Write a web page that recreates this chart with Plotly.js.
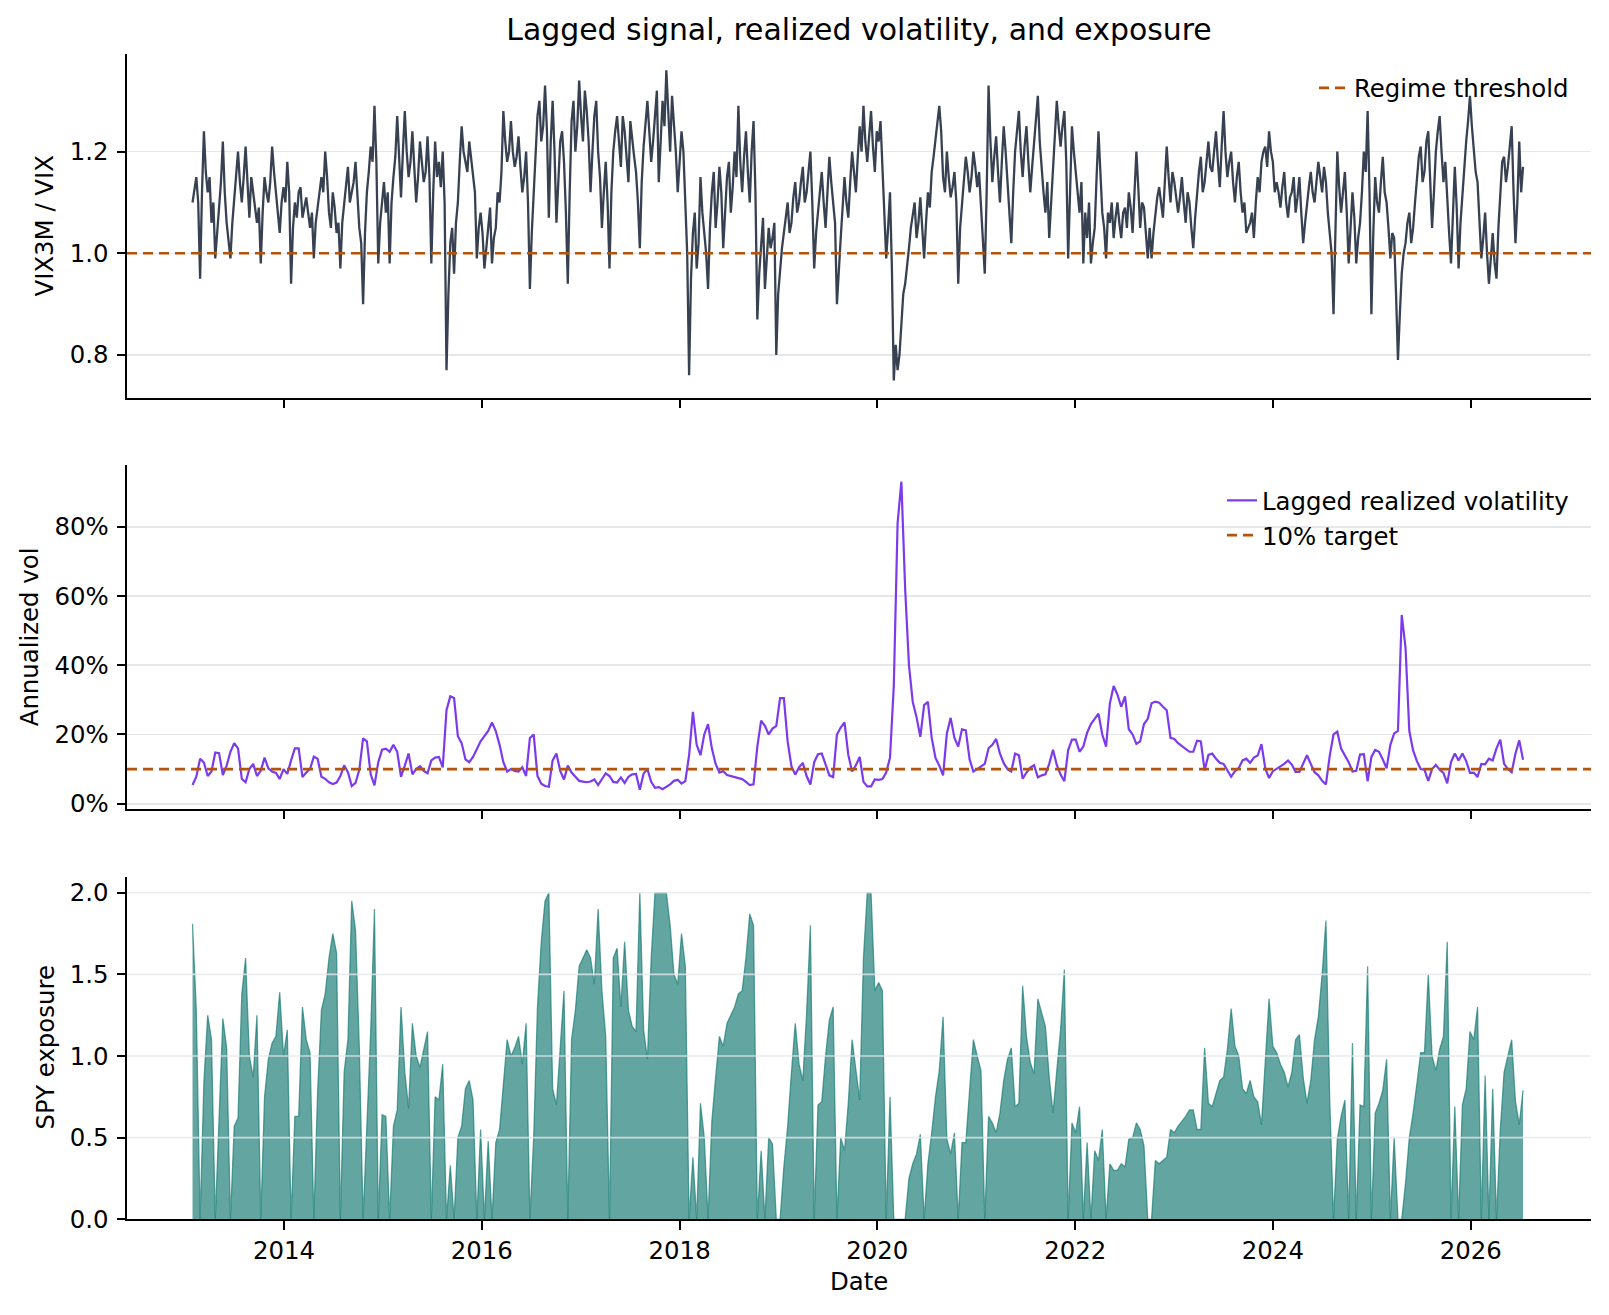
<!DOCTYPE html>
<html>
<head>
<meta charset="utf-8">
<script src="https://cdn.plot.ly/plotly-3.0.1.min.js"></script>
<style>
  html, body { margin: 0; padding: 0; background: #ffffff; }
  #chart { width: 1609px; height: 1315px; }
</style>
</head>
<body>
<div id="chart"></div>
<script>
// Observations every two weeks, first one on 2013-01-28
const FIRST_DATE = '2013-01-28';
const STEP_DAYS = 14;

// VIX3M / VIX term-structure ratio (lagged signal), on the biweekly dates
const termRatio = [
  1.10, 1.15, 0.95, 1.24, 1.12, 1.06, 0.99, 1.09, 1.22, 1.06, 0.99, 1.11, 1.20, 1.10, 1.21, 1.07, 1.12, 1.06, 0.98, 1.15, 1.10, 1.21, 1.12, 1.04, 1.13, 1.18,
  0.94, 1.10, 1.12, 1.07, 1.11, 1.05, 0.99, 1.09, 1.15, 1.20, 1.08, 1.12, 1.04, 0.97, 1.10, 1.17, 1.12, 1.18, 1.05, 0.90, 1.12, 1.21, 1.29, 0.98, 1.10, 1.08,
  0.98, 1.15, 1.27, 1.11, 1.28, 1.15, 1.24, 1.10, 1.22, 1.14, 1.23, 0.98, 1.22, 1.18, 1.20, 0.77, 1.02, 0.96, 1.10, 1.25, 1.18, 1.22, 1.16, 0.99, 1.08, 0.97,
  1.05, 0.98, 1.05, 1.10, 1.28, 1.18, 1.26, 1.17, 1.23, 1.12, 1.20, 0.93, 1.12, 1.27, 1.22, 1.33, 1.07, 1.30, 1.06, 1.22, 1.18, 0.94, 1.26, 1.20, 1.34, 1.22,
  1.28, 1.12, 1.27, 1.20, 1.05, 1.18, 0.97, 1.20, 1.27, 1.17, 1.24, 1.14, 1.22, 1.16, 1.01, 1.21, 1.30, 1.18, 1.28, 1.14, 1.30, 1.36, 1.20, 1.26, 1.12, 1.24,
  1.08, 0.76, 1.04, 0.97, 1.15, 1.04, 0.93, 1.12, 1.05, 1.17, 1.01, 1.15, 1.08, 1.20, 1.29, 1.12, 1.24, 1.10, 1.26, 0.87, 1.02, 0.93, 1.05, 1.03, 0.80, 0.97,
  1.04, 1.10, 1.06, 1.14, 1.10, 1.17, 1.12, 1.20, 0.97, 1.08, 1.16, 1.05, 1.19, 1.10, 0.90, 1.03, 1.15, 1.07, 1.20, 1.12, 1.25, 1.29, 1.18, 1.28, 1.16, 1.22,
  1.17, 0.99, 1.12, 0.75, 0.77, 0.86, 0.94, 1.01, 1.08, 1.03, 1.11, 0.99, 1.12, 1.16, 1.22, 1.29, 1.15, 1.20, 1.11, 1.16, 0.94, 1.10, 1.19, 1.12, 1.20, 1.13,
  1.10, 0.96, 1.33, 1.14, 1.23, 1.10, 1.25, 1.14, 1.02, 1.20, 1.28, 1.15, 1.25, 1.12, 1.22, 1.31, 1.16, 1.08, 1.03, 1.18, 1.30, 1.21, 1.28, 0.99, 1.25, 1.16,
  1.08, 0.98, 1.03, 0.98, 1.05, 1.24, 1.08, 0.99, 1.06, 1.03, 1.10, 1.03, 1.09, 1.12, 1.04, 1.20, 1.05, 1.09, 0.99, 0.99, 1.08, 1.13, 1.07, 1.21, 1.10, 1.14,
  1.08, 1.15, 1.06, 1.10, 1.01, 1.12, 1.19, 1.14, 1.22, 1.16, 1.24, 1.13, 1.28, 1.15, 1.20, 1.10, 1.18, 1.08, 1.04, 1.06, 1.03, 1.15, 1.18, 1.21, 1.24, 1.18,
  1.14, 1.09, 1.16, 1.07, 1.12, 1.08, 1.15, 1.02, 1.10, 1.16, 1.10, 1.18, 1.12, 1.14, 1.04, 0.88, 1.20, 1.08, 1.16, 0.98, 1.12, 0.98, 1.06, 1.20, 1.28, 0.88,
  1.15, 1.08, 1.19, 1.10, 0.99, 1.03, 0.79, 0.96, 1.02, 1.08, 1.05, 1.15, 1.21, 1.16, 1.24, 1.05, 1.20, 1.27, 1.14, 1.10, 0.98, 1.17, 0.97, 1.12, 1.22, 1.31,
  1.20, 1.14, 0.99, 1.08, 0.94, 1.04, 0.95, 1.13, 1.19, 1.17, 1.25, 1.02, 1.22, 1.17
];

// The same ratio one week after each biweekly date
const termRatioMidweek = [
  1.13, 1.10, 1.12, 1.16, 1.15, 1.10, 1.04, 1.14, 1.12, 1.03, 1.06, 1.16, 1.14, 1.15, 1.14, 1.15, 1.10, 1.09, 1.08, 1.12, 1.14, 1.16, 1.08, 1.10, 1.10, 1.12,
  1.05, 1.07, 1.13, 1.09, 1.08, 1.08, 1.06, 1.12, 1.12, 1.15, 1.05, 1.09, 1.06, 1.06, 1.13, 1.10, 1.14, 1.12, 1.02, 1.04, 1.16, 1.18, 1.18, 1.06, 1.14, 1.12,
  1.10, 1.19, 1.18, 1.20, 1.20, 1.18, 1.17, 1.15, 1.18, 1.16, 1.15, 1.12, 1.15, 1.13, 1.10, 0.92, 1.05, 1.06, 1.18, 1.20, 1.16, 1.19, 1.12, 1.05, 1.04, 1.02,
  1.09, 1.03, 1.12, 1.16, 1.22, 1.20, 1.20, 1.19, 1.17, 1.15, 1.10, 1.04, 1.20, 1.30, 1.25, 1.24, 1.22, 1.20, 1.14, 1.24, 1.08, 1.12, 1.30, 1.25, 1.27, 1.32,
  1.22, 1.20, 1.30, 1.15, 1.12, 1.10, 1.12, 1.24, 1.22, 1.27, 1.19, 1.26, 1.19, 1.10, 1.14, 1.25, 1.24, 1.22, 1.32, 1.24, 1.25, 1.28, 1.31, 1.20, 1.18, 1.20,
  1.00, 0.95, 1.08, 1.02, 1.08, 1.00, 1.05, 1.16, 1.10, 1.12, 1.09, 1.18, 1.13, 1.15, 1.18, 1.19, 1.16, 1.20, 1.12, 0.96, 1.07, 1.00, 1.01, 1.06, 0.92, 1.01,
  1.07, 1.04, 1.11, 1.08, 1.14, 1.10, 1.16, 1.10, 1.04, 1.13, 1.10, 1.12, 1.14, 1.06, 0.98, 1.09, 1.10, 1.14, 1.16, 1.19, 1.20, 1.22, 1.23, 1.21, 1.24, 1.26,
  1.10, 1.05, 0.97, 0.82, 0.80, 0.92, 0.97, 1.05, 1.10, 1.06, 1.05, 1.06, 1.09, 1.19, 1.25, 1.24, 1.12, 1.15, 1.13, 1.10, 1.05, 1.14, 1.16, 1.15, 1.17, 1.16,
  1.04, 1.12, 1.22, 1.19, 1.16, 1.18, 1.20, 1.09, 1.12, 1.24, 1.20, 1.21, 1.18, 1.17, 1.26, 1.22, 1.12, 1.14, 1.10, 1.24, 1.25, 1.25, 1.18, 1.12, 1.20, 1.12,
  1.14, 1.08, 1.10, 1.02, 1.15, 1.16, 1.05, 1.08, 1.10, 1.07, 1.06, 1.08, 1.05, 1.09, 1.12, 1.13, 1.10, 1.04, 1.05, 1.04, 1.11, 1.10, 1.14, 1.15, 1.16, 1.11,
  1.11, 1.10, 1.12, 1.05, 1.07, 1.16, 1.12, 1.18, 1.17, 1.20, 1.18, 1.21, 1.20, 1.18, 1.14, 1.15, 1.12, 1.10, 1.05, 1.08, 1.10, 1.12, 1.20, 1.17, 1.20, 1.12,
  1.12, 1.13, 1.10, 1.11, 1.15, 1.11, 1.08, 1.06, 1.13, 1.12, 1.14, 1.15, 1.17, 1.08, 1.00, 1.02, 1.13, 1.12, 1.08, 1.05, 1.07, 1.03, 1.12, 1.16, 1.12, 1.04,
  1.10, 1.14, 1.12, 1.05, 1.04, 0.92, 0.88, 1.00, 1.06, 1.02, 1.10, 1.19, 1.14, 1.22, 1.15, 1.12, 1.24, 1.20, 1.18, 1.04, 1.08, 1.09, 1.06, 1.18, 1.26, 1.25,
  1.16, 1.06, 1.03, 1.00, 0.99, 0.98, 1.05, 1.18, 1.14, 1.21, 1.12, 1.10, 1.12
];

// Lagged realized volatility, annualized, in percent
const realizedVolPct = [
  5.4, 7.8, 13.0, 11.9, 8.0, 9.3, 14.8, 14.6, 8.3, 11.0, 15.0, 17.5, 16.0, 7.2, 6.2, 10.0, 11.5, 8.0, 9.5, 13.3, 10.2, 9.3, 8.9, 7.2, 10.0, 8.6,
  12.5, 16.0, 16.0, 7.7, 9.0, 10.0, 13.6, 13.0, 7.8, 7.2, 6.2, 5.7, 6.1, 8.0, 11.1, 9.1, 5.1, 6.0, 9.8, 18.9, 18.0, 8.5, 5.3, 12.0, 15.6, 15.9,
  15.0, 17.0, 15.0, 7.8, 11.0, 14.5, 8.5, 10.0, 10.8, 9.5, 8.8, 12.5, 13.3, 13.5, 10.5, 27.0, 31.0, 30.5, 19.5, 17.5, 12.8, 12.0, 13.5, 16.0, 18.0, 19.5,
  21.0, 23.5, 21.0, 17.0, 12.0, 9.3, 10.0, 9.5, 9.3, 10.5, 8.0, 19.0, 20.0, 8.0, 5.8, 5.1, 4.9, 12.5, 14.5, 9.5, 7.0, 11.0, 9.0, 7.8, 6.6, 6.4,
  6.2, 6.4, 7.0, 5.4, 7.1, 8.8, 8.0, 6.3, 6.1, 7.6, 6.0, 7.8, 8.5, 8.6, 4.0, 8.7, 10.0, 6.3, 4.6, 4.8, 4.2, 4.9, 5.6, 6.6, 6.9, 5.8,
  6.5, 14.0, 26.5, 17.0, 14.0, 20.0, 23.0, 16.0, 11.5, 9.0, 9.4, 8.3, 8.0, 7.7, 7.2, 7.1, 6.3, 5.4, 5.6, 16.5, 24.0, 22.5, 20.0, 21.7, 22.5, 30.5,
  30.5, 18.0, 10.8, 8.4, 10.5, 11.8, 8.0, 5.5, 12.0, 14.3, 14.5, 11.0, 8.2, 7.7, 20.0, 22.0, 23.5, 14.1, 9.3, 11.1, 13.5, 6.3, 5.0, 5.0, 7.0, 6.9,
  7.1, 9.0, 13.3, 34.0, 81.0, 93.0, 62.0, 40.0, 29.4, 25.0, 19.3, 28.5, 29.4, 19.0, 13.2, 11.0, 8.2, 20.3, 24.8, 19.0, 16.5, 21.5, 21.2, 12.8, 9.3, 10.0,
  10.8, 11.5, 16.0, 17.0, 18.7, 14.5, 11.7, 10.0, 9.3, 14.5, 14.0, 7.2, 9.0, 10.4, 11.1, 7.6, 8.2, 8.5, 11.5, 15.6, 11.2, 8.4, 6.5, 15.5, 18.5, 18.5,
  15.0, 16.5, 20.5, 23.0, 24.5, 26.0, 20.0, 16.5, 29.0, 34.0, 31.5, 28.0, 31.0, 21.5, 20.0, 17.3, 18.0, 23.0, 24.5, 29.0, 29.5, 29.2, 28.0, 27.0, 19.0, 18.7,
  17.5, 16.7, 15.9, 15.0, 15.0, 18.2, 18.0, 9.6, 14.1, 14.5, 13.0, 11.8, 11.5, 9.6, 7.8, 9.4, 10.3, 12.5, 13.0, 11.8, 13.3, 13.9, 17.2, 10.2, 7.4, 9.4,
  10.2, 10.8, 11.5, 12.5, 11.3, 9.2, 9.2, 11.5, 14.0, 11.5, 9.1, 8.2, 6.6, 5.6, 13.8, 20.0, 20.8, 15.9, 13.9, 12.0, 9.3, 9.5, 14.2, 14.3, 6.5, 13.5,
  15.5, 15.0, 12.8, 10.2, 17.0, 20.3, 21.0, 54.5, 45.0, 21.0, 15.4, 12.3, 10.0, 9.8, 6.6, 10.0, 11.2, 9.8, 8.9, 5.9, 12.0, 14.5, 12.5, 14.5, 12.3, 8.9,
  9.0, 7.7, 11.5, 11.4, 13.0, 12.5, 16.0, 18.5, 11.5, 10.0, 9.1, 14.5, 18.3, 12.7
];

// SPY exposure (multiple of capital)
const spyExposure = [
  1.81, 1.28, 0, 0.84, 1.25, 1.10, 0, 0.68, 1.23, 1.05, 0, 0.57, 0.62, 1.38, 1.60, 1.00, 0.87, 1.25, 0, 0.75, 0.98, 1.08, 1.12, 1.39, 1.00, 1.16,
  0, 0.63, 0.63, 1.30, 1.10, 1.02, 0, 0.78, 1.28, 1.38, 1.60, 1.75, 1.63, 0, 0.90, 1.10, 1.95, 1.77, 1.05, 0, 0.55, 1.15, 1.90, 0, 0.64, 0.63,
  0, 0.57, 0.67, 1.30, 0.90, 0.68, 1.20, 1.00, 0.93, 1.05, 1.15, 0, 0.75, 0.73, 0.95, 0, 0.33, 0, 0.50, 0.57, 0.80, 0.85, 0.73, 0, 0.55, 0,
  0.48, 0, 0.47, 0.55, 0.81, 1.10, 1.00, 1.05, 1.12, 0.95, 1.20, 0, 0.50, 1.30, 1.70, 1.95, 2.00, 0.80, 0.70, 1.02, 1.40, 0, 1.10, 1.28, 1.55, 1.60,
  1.65, 1.60, 1.44, 1.90, 1.40, 1.12, 0, 1.60, 1.66, 1.30, 1.70, 1.28, 1.18, 1.15, 2.00, 1.16, 0.98, 1.60, 2.00, 2.00, 2.00, 2.00, 1.80, 1.50, 1.44, 1.75,
  1.55, 0, 0.38, 0, 0.71, 0.50, 0, 0.60, 0.87, 1.12, 1.06, 1.20, 1.25, 1.30, 1.38, 1.40, 1.60, 1.87, 1.80, 0, 0.42, 0, 0.50, 0.46, 0, 0,
  0.32, 0.57, 0.90, 1.20, 0.95, 0.85, 1.26, 1.80, 0, 0.70, 0.72, 1.00, 1.22, 1.30, 0, 0.50, 0.42, 0.71, 1.10, 0.90, 0.73, 1.60, 2.00, 2.00, 1.40, 1.45,
  1.40, 0, 0.75, 0, 0, 0, 0, 0.25, 0.34, 0.40, 0.52, 0, 0.34, 0.53, 0.75, 0.91, 1.24, 0.49, 0.40, 0.53, 0, 0.47, 0.47, 0.79, 1.10, 1.00,
  0.91, 0, 0.63, 0.59, 0.53, 0.65, 0.85, 0.98, 1.05, 0.69, 0.71, 1.43, 1.12, 0.96, 0.89, 1.35, 1.26, 1.18, 0.87, 0.65, 0.91, 1.16, 1.53, 0, 0.59, 0.53,
  0.69, 0, 0.47, 0, 0.42, 0.36, 0.55, 0, 0.34, 0.30, 0.30, 0.34, 0.32, 0.49, 0.50, 0.59, 0.55, 0.45, 0, 0, 0.36, 0.34, 0.36, 0.38, 0.55, 0.53,
  0.57, 0.60, 0.63, 0.67, 0.67, 0.55, 0.55, 1.05, 0.71, 0.69, 0.77, 0.85, 0.87, 1.04, 1.29, 1.06, 1.00, 0.80, 0.77, 0.85, 0.75, 0.72, 0.58, 0.98, 1.35, 1.06,
  1.02, 0.95, 0.90, 0.81, 0.90, 1.10, 1.13, 0.87, 0.71, 0.85, 1.10, 1.24, 1.50, 1.83, 0.73, 0, 0.49, 0.63, 0.73, 0, 1.08, 0, 0.70, 0.69, 1.55, 0,
  0.65, 0.71, 0.79, 0.98, 0, 0.50, 0, 0, 0.22, 0.50, 0.65, 0.83, 1.02, 1.02, 1.50, 1.00, 0.91, 1.04, 1.12, 1.70, 0, 0.69, 0, 0.70, 0.80, 1.15,
  1.10, 1.30, 0, 0.88, 0, 0.80, 0, 0.55, 0.90, 1.00, 1.10, 0.72, 0.58, 0.79
];

const REGIME_THRESHOLD = 1.0;   // VIX3M / VIX level separating regimes
const VOL_TARGET_PCT = 10;      // annualized volatility target
const YEAR_TICKS = ['2014', '2016', '2018', '2020', '2022', '2024', '2026'];
const RATIO_TICKS = [0.8, 1.0, 1.2];
const VOL_TICKS = [0, 20, 40, 60, 80];
const EXPOSURE_TICKS = [0, 0.5, 1.0, 1.5, 2.0];

// ---- helpers -------------------------------------------------------------
const W = 1609, H = 1315;
const px = v => v / W;          // pixel column -> paper x
const py = v => 1 - v / H;      // pixel row    -> paper y

const DAY_MS = 86400000;
const startMs = Date.parse(FIRST_DATE + 'T00:00:00Z');
const isoDay = ms => new Date(ms).toISOString().slice(0, 10);
const dates = termRatio.map((_, i) => isoDay(startMs + i * STEP_DAYS * DAY_MS));

// weekly ratio series: each biweekly reading followed by its midweek reading
const ratioDates = [], ratioValues = [];
termRatio.forEach((v, i) => {
  ratioDates.push(dates[i]); ratioValues.push(v);
  if (i < termRatioMidweek.length) {
    ratioDates.push(isoDay(startMs + (i * STEP_DAYS + STEP_DAYS / 2) * DAY_MS));
    ratioValues.push(termRatioMidweek[i]);
  }
});

const X_RANGE = ['2012-05-31', '2027-03-21'];

const FONT = 'DejaVu Sans, Verdana, sans-serif';
const INK = '#000000';
const GRID = '#e5e7eb';
const SLATE = '#374151';
const RUST = '#b45309';
const VIOLET = '#7c3aed';
const TEAL = 'rgba(15,118,110,0.65)';

const xCommon = {
  type: 'date', range: X_RANGE,
  tickmode: 'array', tickvals: YEAR_TICKS.map(y => y + '-01-01'), ticktext: YEAR_TICKS,
  showgrid: false, zeroline: false,
  showline: true, linecolor: INK, linewidth: 2,
  ticks: 'outside', ticklen: 8.5, tickwidth: 2, tickcolor: INK,
  tickfont: { size: 24.4, color: INK }
};
const yCommon = {
  showgrid: true, gridcolor: GRID, gridwidth: 1.6, zeroline: false,
  showline: true, linecolor: INK, linewidth: 2,
  ticks: 'outside', ticklen: 8.5, tickwidth: 2, tickcolor: INK,
  tickfont: { size: 24.4, color: INK }, ticklabelstandoff: 3,
  tickmode: 'array'
};

// ---- traces --------------------------------------------------------------
const traces = [
  {
    x: ratioDates, y: ratioValues, xaxis: 'x', yaxis: 'y', type: 'scatter', mode: 'lines',
    line: { color: SLATE, width: 2.3 }, name: 'VIX3M / VIX', showlegend: false
  },
  {
    x: X_RANGE, y: [REGIME_THRESHOLD, REGIME_THRESHOLD], xaxis: 'x', yaxis: 'y',
    type: 'scatter', mode: 'lines', line: { color: RUST, width: 2.6, dash: '10px,6px' },
    name: 'Regime threshold', legend: 'legend'
  },
  {
    x: dates, y: realizedVolPct, xaxis: 'x2', yaxis: 'y2', type: 'scatter', mode: 'lines',
    line: { color: VIOLET, width: 2.2 }, name: 'Lagged realized volatility', legend: 'legend2'
  },
  {
    x: X_RANGE, y: [VOL_TARGET_PCT, VOL_TARGET_PCT], xaxis: 'x2', yaxis: 'y2',
    type: 'scatter', mode: 'lines', line: { color: RUST, width: 2.6, dash: '10px,6px' },
    name: '10% target', legend: 'legend2'
  },
  {
    x: dates, y: spyExposure, xaxis: 'x3', yaxis: 'y3', type: 'scatter', mode: 'lines',
    fill: 'tozeroy', fillcolor: TEAL, line: { color: TEAL, width: 1.3 },
    name: 'SPY exposure', showlegend: false
  }
];

// grid over the filled area (drawn above it, as in the panel's style)
const exposureGrid = EXPOSURE_TICKS.filter(v => v > 0).map(v => ({
  type: 'line', layer: 'above', xref: 'x3 domain', x0: 0, x1: 1,
  yref: 'y3', y0: v, y1: v, line: { color: 'rgba(229,231,235,0.8)', width: 1.6 }
}));

const axisLabel = (text, x, y, angle) => ({
  text, xref: 'paper', yref: 'paper', x: px(x), y: py(y),
  xanchor: 'center', yanchor: 'middle', showarrow: false, textangle: angle,
  font: { size: 24.4, color: INK }
});

const layout = {
  width: W, height: H,
  margin: { l: 0, r: 0, t: 0, b: 0 },
  paper_bgcolor: '#ffffff', plot_bgcolor: '#ffffff',
  font: { family: FONT, size: 24.4, color: INK },
  title: {
    text: 'Lagged signal, realized volatility, and exposure',
    x: px(859), xanchor: 'center', y: py(30), yanchor: 'middle',
    font: { size: 29.9, color: INK }
  },
  xaxis: Object.assign({}, xCommon, { domain: [px(127), px(1591)], anchor: 'y', showticklabels: false }),
  xaxis2: Object.assign({}, xCommon, { domain: [px(127), px(1591)], anchor: 'y2', showticklabels: false }),
  xaxis3: Object.assign({}, xCommon, { domain: [px(127), px(1591)], anchor: 'y3' }),
  yaxis: Object.assign({}, yCommon, {
    domain: [py(397.7), py(54)], anchor: 'x', range: [0.7159, 1.3921],
    tickvals: RATIO_TICKS, ticktext: RATIO_TICKS.map(v => v.toFixed(1))
  }),
  yaxis2: Object.assign({}, yCommon, {
    domain: [py(808.7), py(465)], anchor: 'x2', range: [-1.44, 97.82],
    tickvals: VOL_TICKS, ticktext: VOL_TICKS.map(v => v + '%')
  }),
  yaxis3: Object.assign({}, yCommon, {
    domain: [py(1219.3), py(876.7)], anchor: 'x3', range: [0, 2.098],
    tickvals: EXPOSURE_TICKS, ticktext: EXPOSURE_TICKS.map(v => v.toFixed(1)), showgrid: false
  }),
  legend: {
    x: px(1574), xanchor: 'right', y: py(88), yanchor: 'middle',
    bgcolor: 'rgba(0,0,0,0)', borderwidth: 0, font: { size: 24.4, color: INK }
  },
  legend2: {
    x: px(1574), xanchor: 'right', y: py(518), yanchor: 'middle',
    bgcolor: 'rgba(0,0,0,0)', borderwidth: 0, font: { size: 24.4, color: INK }
  },
  shapes: exposureGrid,
  annotations: [
    axisLabel('VIX3M / VIX', 44.5, 226, -90),
    axisLabel('Annualized vol', 29.3, 637, -90),
    axisLabel('SPY exposure', 44.5, 1048, -90),
    axisLabel('Date', 859, 1281.5, 0)
  ]
};

Plotly.newPlot('chart', traces, layout, { staticPlot: true, displayModeBar: false });
</script>
</body>
</html>
